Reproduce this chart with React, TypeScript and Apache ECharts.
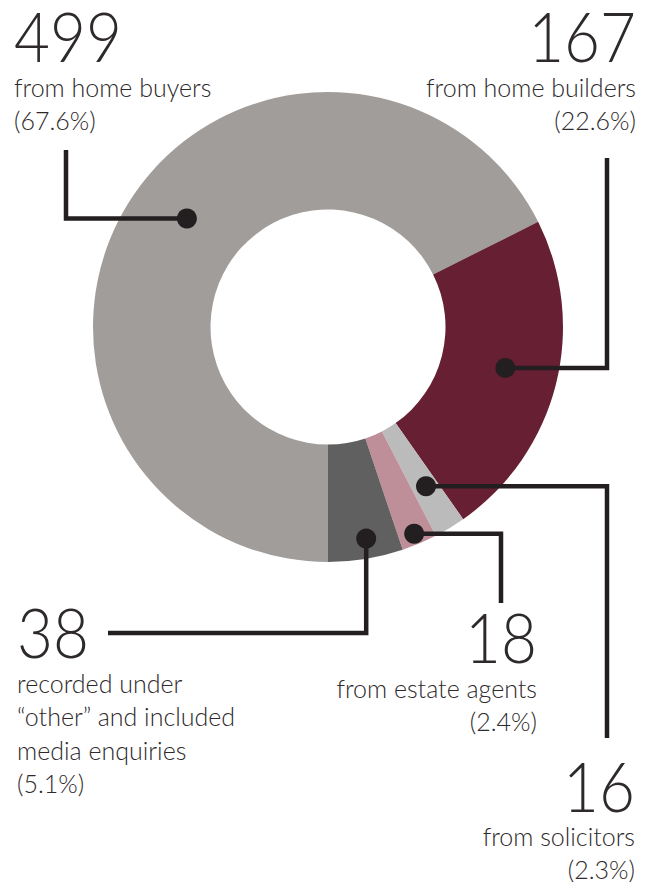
import React, { useEffect, useRef } from "react";
import * as echarts from "echarts";

// ---- data ----
const categories = ["home buyers", "home builders", "solicitors", "estate agents", "other"];
const values = [499, 167, 16, 18, 38];
const pctLabels = ["67.6%", "22.6%", "2.3%", "2.4%", "5.1%"];
const descLines = [
  ["from home buyers"],
  ["from home builders"],
  ["from solicitors"],
  ["from estate agents"],
  ["recorded under", "\u201cother\u201d and included", "media enquiries"],
];
const colors = ["#a19d9a", "#661f33", "#bbbbbb", "#bf8f99", "#606060"];

// ---- layout (positions / styles) ----
const CX = 328;
const CY = 327;
const R_IN = 117.5;
const R_OUT = 235;
const START = 270;
const INK = "#231f20";
const TEXT_INK = "#2e2a2b";
const FONT = "Lato";

// where the leader dot sits inside each slice: fraction along the slice and radius
const anchorFrac = [0.524, 0.486, 0.45, 0.535, 0.448];
const anchorR = [178, 182, 187, 224, 215];

type Leg = { kind: "h" | "v"; to: number };
const legs: Leg[][] = [
  [{ kind: "h", to: 66 }, { kind: "v", to: 150 }],
  [{ kind: "h", to: 607 }, { kind: "v", to: 158 }],
  [{ kind: "h", to: 607 }, { kind: "v", to: 738 }],
  [{ kind: "h", to: 501 }, { kind: "v", to: 603 }],
  [{ kind: "v", to: 633 }, { kind: "h", to: 108 }],
];

// label blocks: x, align, number center y, first text line y
const blocks = [
  { x: 14, align: "left", numY: 36, textY: 87 },
  { x: 636, align: "right", numY: 36, textY: 87 },
  { x: 635, align: "right", numY: 786, textY: 836 },
  { x: 537, align: "right", numY: 637, textY: 688 },
  { x: 17, align: "left", numY: 632, textY: 683 },
];
const LINE_H = 33.3;
const NUM_SIZE = 62;
const NUM_SCALE_Y = 1.1;
const TEXT_SIZE = 25;

export default function App() {
  const ref = useRef<HTMLDivElement>(null);
  useEffect(() => {
    if (!ref.current) return;
    const chart = echarts.init(ref.current, undefined, { renderer: "svg" });
    const total = values.reduce((a, b) => a + b, 0);

    const graphics: any[] = [];
    let cum = 0;
    values.forEach((v, i) => {
      const angDeg = START - ((cum + anchorFrac[i] * v) / total) * 360;
      cum += v;
      const a = (angDeg * Math.PI) / 180;
      const dx = CX + anchorR[i] * Math.cos(a);
      const dy = CY - anchorR[i] * Math.sin(a);
      const pts: number[][] = [[dx, dy]];
      let px = dx;
      let py = dy;
      legs[i].forEach((l) => {
        if (l.kind === "h") px = l.to;
        else py = l.to;
        pts.push([px, py]);
      });
      graphics.push({
        type: "polyline",
        shape: { points: pts },
        style: { stroke: INK, lineWidth: 4.5, fill: null },
        z: 10,
      });
      graphics.push({
        type: "circle",
        shape: { cx: dx, cy: dy, r: 10 },
        style: { fill: INK },
        z: 11,
      });

      const b = blocks[i];
      graphics.push({
        type: "text",
        x: b.x,
        y: b.numY,
        scaleY: NUM_SCALE_Y,
        style: {
          text: String(v),
          fill: TEXT_INK,
          fontFamily: FONT,
          fontWeight: 300,
          fontSize: NUM_SIZE,
          lineHeight: 46,
          textAlign: b.align,
          textVerticalAlign: "middle",
        },
        z: 12,
      });
      const lines = [...descLines[i], "(" + pctLabels[i] + ")"];
      lines.forEach((t, k) => {
        graphics.push({
          type: "text",
          x: b.x,
          y: b.textY + k * LINE_H,
          style: {
            text: t,
            fill: TEXT_INK,
            fontFamily: FONT,
            fontWeight: 300,
            fontSize: TEXT_SIZE,
            lineHeight: 22,
            textAlign: b.align,
            textVerticalAlign: "middle",
          },
          z: 12,
        });
      });
    });

    chart.setOption({
      animation: false,
      backgroundColor: "#ffffff",
      series: [
        {
          type: "pie",
          center: [CX, CY],
          radius: [R_IN, R_OUT],
          startAngle: START,
          clockwise: true,
          label: { show: false },
          labelLine: { show: false },
          silent: true,
          itemStyle: { borderWidth: 0 },
          data: categories.map((c, i) => ({
            name: c,
            value: values[i],
            itemStyle: { color: colors[i] },
          })),
        },
      ],
      graphic: graphics,
    });
    return () => chart.dispose();
  }, []);
  return (
    <div
      ref={ref}
      style={{ position: "fixed", left: 0, top: 0, width: 652, height: 882 }}
    />
  );
}
